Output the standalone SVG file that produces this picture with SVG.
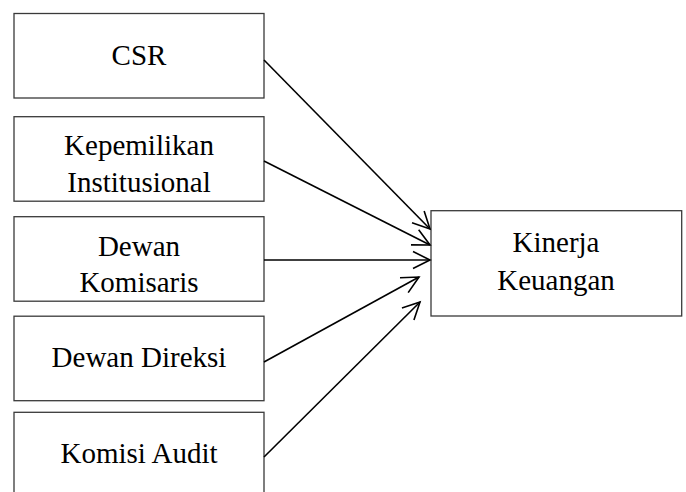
<svg xmlns="http://www.w3.org/2000/svg" width="686" height="492" viewBox="0 0 686 492">
<style>
.box{fill:#fff;stroke:#3a3a3a;stroke-width:1.3}
.lbl{font-family:"Liberation Serif","Times New Roman",serif;font-size:29px;fill:#000;text-anchor:middle}
.conn{stroke:#000;stroke-width:1.6;fill:none;marker-end:url(#arr)}
</style>
<defs>
<marker id="arr" markerUnits="userSpaceOnUse" markerWidth="24" markerHeight="24" viewBox="-20 -12 24 24" refX="0" refY="0" orient="auto">
<path d="M-17,-8.5 L0,0 L-17,8.5" fill="none" stroke="#000" stroke-width="1.6"/>
</marker>
</defs>
<rect width="686" height="492" fill="#fff"/>
<g id="csr"><rect class="box" x="14" y="13.5" width="250" height="84.5"/><text class="lbl" x="139" y="65">CSR</text></g>
<g id="kepemilikan"><rect class="box" x="14" y="116.7" width="250" height="84.5"/><text class="lbl" x="139" y="155">Kepemilikan</text><text class="lbl" x="139" y="192">Institusional</text></g>
<g id="komisaris"><rect class="box" x="14" y="216.7" width="250" height="84.5"/><text class="lbl" x="139" y="256">Dewan</text><text class="lbl" x="139" y="292">Komisaris</text></g>
<g id="direksi"><rect class="box" x="14" y="316.2" width="250" height="84.5"/><text class="lbl" x="139" y="367">Dewan Direksi</text></g>
<g id="audit"><rect class="box" x="14" y="412.3" width="250" height="90"/><text class="lbl" x="139" y="463">Komisi Audit</text></g>
<g id="kinerja"><rect class="box" x="431" y="210.7" width="250.7" height="105.3"/><text class="lbl" x="556" y="252">Kinerja</text><text class="lbl" x="556" y="290">Keuangan</text></g>
<g id="connectors">
<line class="conn" x1="264" y1="60" x2="430" y2="229"/>
<line class="conn" x1="264" y1="161" x2="430" y2="245"/>
<line class="conn" x1="264" y1="260" x2="430" y2="260"/>
<line class="conn" x1="264" y1="362" x2="419" y2="277"/>
<line class="conn" x1="264" y1="457" x2="420" y2="302"/>
</g>
</svg>
